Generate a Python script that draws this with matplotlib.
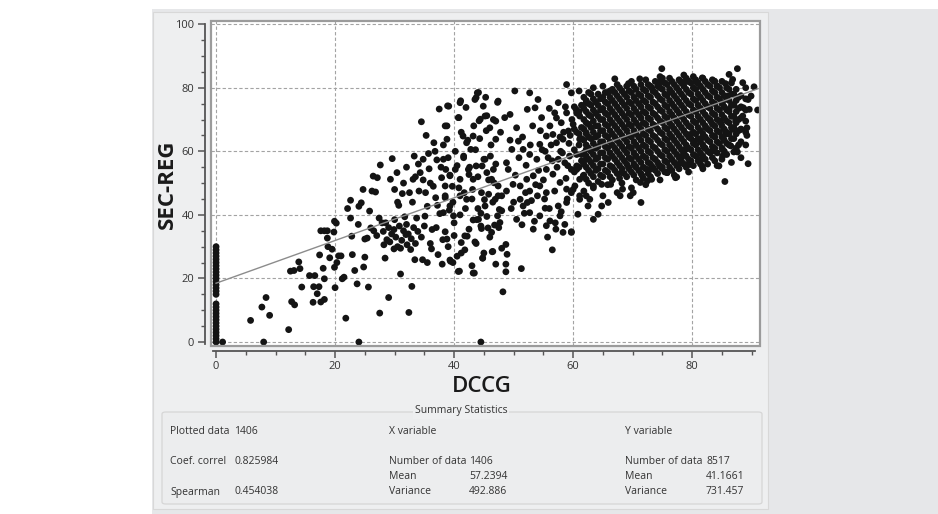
import numpy as np
import matplotlib.pyplot as plt
from matplotlib.patches import Rectangle, FancyBboxPatch

plt.rcParams['font.family'] = ['Open Sans', 'DejaVu Sans']

# --- data ----------------------------------------------------------------
# SEC-REG values sitting on DCCG = 0
zero_col_y = [0, 1, 2, 3, 4, 5, 6, 7, 8, 9, 10, 11, 12, 15, 16, 17, 18, 19,
              20, 21, 22, 23, 24, 25, 26, 27, 28, 29, 30]

# sparse low end, DCCG 1-22
low_pts = [(1.1, 0), (5.8, 6.8), (7.7, 11), (8.4, 14), (9.0, 8.4), (8.0, 0), (12.2, 3.9),
           (12.5, 22.3), (13.1, 22.5), (13.9, 25.2), (14.1, 23.1), (14.4, 17.3), (12.7, 12.7),
           (13.2, 11.7), (15.7, 20.9), (16.6, 20.9), (16.4, 17.4), (16.3, 12.5), (17.0, 15.2),
           (17.3, 17.4), (17.6, 12.6), (18.2, 13.4), (17.4, 27.4), (17.6, 35), (18.2, 35),
           (18.7, 35), (18.0, 23.2), (18.2, 19.9), (18.7, 32.7), (18.8, 30), (19.1, 26.5),
           (19.5, 29.2), (19.8, 34.6), (19.9, 38), (20.2, 37.4), (19.9, 23.5), (20.0, 17.1),
           (20.3, 25), (20.6, 27.1), (21.0, 27.1), (21.2, 19.9), (21.5, 20.4), (21.8, 7.5)]

# DCCG 22-48
mid_pts = [(24.0, 0), (23.7, 18.3), (23.3, 22.5), (22.9, 27.5), (22.8, 33.3), (22.6, 39), (22.1, 42),
           (22.6, 44.6), (24.8, 23.6), (25.0, 26.7), (25.6, 17.3), (23.9, 37), (24.0, 42.7), (24.4, 43.8),
           (24.7, 48), (25.0, 32.4), (25.4, 32.7), (25.8, 41.2), (26.0, 35.9), (26.2, 47.5), (26.4, 52.2),
           (27.1, 51.7), (26.8, 47.2), (27.4, 39), (27.5, 9.1), (27.6, 55.7), (27.9, 37.5), (28.1, 34.8),
           (28.2, 30.6), (28.4, 26.4), (28.7, 32.2), (29.0, 14), (29.3, 51.2), (29.6, 57.7), (29.9, 35.4),
           (29.9, 29.3), (30.4, 53.3), (30.7, 43), (31.0, 21.4), (31.3, 46.7), (31.7, 39.4), (31.9, 33.8),
           (32.1, 30.6), (32.4, 9.3), (32.7, 29.1), (32.9, 17.5), (33.1, 51.2), (33.3, 58.5), (33.4, 25.9),
           (33.7, 39), (33.9, 34.8), (34.1, 47.5), (34.3, 53.3), (34.5, 69.3), (34.7, 25.9), (34.8, 57.5),
           (35.1, 39.6), (35.3, 65), (35.5, 42.7), (35.7, 59.3), (36.0, 50), (36.2, 29.3), (36.3, 35.4),
           (36.6, 62.7), (36.9, 45.4), (37.1, 57.3), (37.3, 27.5), (37.5, 73.3), (37.6, 40.4), (37.9, 51.7),
           (38.1, 32.2), (38.6, 54.3), (38.8, 68), (38.9, 74.3), (39.2, 41.5), (39.4, 25.4), (39.7, 49),
           (40.0, 37.5), (40.7, 22.2), (40.8, 70.6), (41.1, 75.9), (41.5, 64.8), (41.7, 47), (42.0, 73.8),
           (42.2, 33.3), (42.5, 52.7), (42.8, 60.6), (43.1, 48), (43.4, 21.7), (43.7, 76.9), (43.8, 38.5),
           (44.1, 78.5), (44.2, 69.6), (44.5, 0), (44.7, 55.4), (44.8, 26.4), (45.1, 44.8), (45.3, 77),
           (45.5, 71.2), (45.7, 35.9), (46.1, 58.5), (46.5, 28.5), (46.7, 50.1), (47.0, 63.8), (47.3, 75.4),
           (47.6, 41.7),
           (29.0, 36), (29.5, 34), (30.2, 33), (30.8, 36.5), (31.2, 32), (31.5, 35), (32.0, 37), (32.3, 34),
           (32.8, 32.5), (33.2, 36), (30.5, 30), (31.0, 29.5), (29.2, 31.5), (33.5, 31), (30.0, 38.5),
           (28.5, 37.5), (27.0, 33.5), (26.5, 35), (34.5, 33), (35.0, 36.5),
           (30.0, 48), (30.5, 44), (31.5, 50), (32.0, 55), (32.5, 47), (33.0, 44), (33.5, 52), (34.0, 56),
           (34.8, 51), (35.2, 47), (35.8, 54.5), (36.5, 49), (36.8, 60), (37.2, 43), (37.8, 55), (38.2, 62),
           (38.5, 46), (39.0, 58), (39.3, 52.5), (39.8, 44), (40.2, 60), (40.5, 55.5), (40.8, 48.5),
           (41.2, 66), (41.6, 58), (41.9, 42), (42.3, 63.5), (42.6, 55), (43.0, 45), (43.3, 68), (43.6, 60.5),
           (44.0, 52), (44.3, 64), (44.6, 47), (45.0, 57.5), (45.4, 66.5), (45.8, 51), (46.2, 62), (46.6, 70),
           (47.0, 56), (47.4, 46), (47.8, 66),
           (35.5, 25), (36.0, 31), (37.0, 36), (38.0, 24.5), (39.0, 30), (40.0, 33.5), (40.5, 27), (41.0, 40),
           (41.8, 29), (42.5, 35.5), (43.0, 24), (43.7, 31), (44.0, 42), (44.5, 36.5), (45.0, 28),
           (45.5, 39.5), (46.0, 33), (46.5, 44), (47.0, 24.5), (47.5, 36), (48.0, 29.5)]

# DCCG 38-63
upper_pts = [(48.2, 15.8), (43.2, 21.7), (40.9, 22.3), (44.8, 26.4), (46.4, 28.4), (48.7, 30.7), (48.9, 27.6),
             (48.7, 24.5), (48.7, 22.1), (51.3, 23.1), (56.5, 29), (39.3, 25.8), (39.8, 25), (41.2, 28),
             (43.5, 31.5), (41.2, 31.3), (41.8, 33.4), (38.8, 32.4), (38.5, 34.7), (46.3, 34.5), (46.8, 36.8),
             (47.3, 39.7), (48.0, 41.3), (47.7, 37.6), (44.6, 35.7), (44.1, 38.6), (44.5, 40.5), (43.2, 38.4),
             (49.6, 42), (50.5, 38.6), (51.4, 36.9), (52.3, 43.9), (52.7, 40.7), (54.0, 46), (55.3, 42.1),
             (56.1, 38.1), (57.1, 35.5), (58.3, 34.5), (59.7, 34.5), (58.6, 37), (57.8, 39.7), (57.5, 42.8),
             (58.9, 43.9), (59.7, 47), (60.3, 49.1), (61.1, 44.9), (62.2, 46), (52.2, 51.2), (51.1, 49.1),
             (49.9, 49.6), (49.1, 54.3), (48.8, 56.4), (49.7, 60.6), (50.8, 63.2), (51.6, 60.6), (52.7, 59),
             (53.9, 57.5), (54.4, 62.2), (55.5, 64.8), (56.1, 68), (56.9, 72.1), (57.5, 75.3), (58.9, 81),
             (59.7, 78.4), (54.7, 70.6), (52.7, 78.4), (50.2, 79), (54.1, 76.3), (53.6, 73.7), (52.3, 73.2),
             (50.5, 67.4), (49.4, 71.6), (48.5, 70.6), (47.4, 75.8), (47.0, 69.5), (46.0, 67.4), (45.2, 71.1),
             (44.9, 74.2), (43.9, 78.4), (43.5, 76.3), (44.4, 70.1), (43.2, 64.8), (42.1, 62.7), (41.6, 58.5),
             (41.0, 75.3), (40.7, 70.6), (39.1, 74.2), (38.5, 68), (38.8, 63.8), (38.2, 57.5), (39.3, 52.3),
             (38.5, 49.1), (40.2, 54.3), (41.0, 51.2), (42.4, 54.3), (43.2, 51.2), (43.7, 55.4), (45.2, 57.5),
             (45.5, 53.3), (46.6, 54.3), (46.3, 51.2), (47.4, 49.1), (48.0, 46), (46.9, 44.9), (45.8, 46.5),
             (48.8, 47.5), (55.5, 54.3), (56.6, 52.8), (57.8, 50.2), (57.5, 57.5), (58.6, 56.4), (59.4, 58.5),
             (60.6, 55.4), (61.4, 59), (57.2, 62.7), (58.3, 63.8), (59.2, 66.4), (60.0, 68.5), (61.1, 71.1),
             (62.2, 75.3), (60.5, 73.2), (58.0, 69), (56.6, 65.3), (58.9, 72.1), (61.1, 63.8), (62.2, 65.9),
             (62.2, 60.6), (62.2, 57.5), (59.7, 54.3), (61.1, 51.2), (62.2, 51.2), (55.5, 47), (54.4, 49.1),
             (53.3, 52.3), (52.7, 47.5), (51.1, 44.9), (51.6, 42.8), (42.1, 44.9), (41.0, 46), (39.3, 42.8),
             (38.5, 45.4), (38.2, 40.7), (39.9, 39.7), (45.2, 42.8), (53.3, 35.5), (55.5, 36.6), (54.4, 39.7),
             (58.9, 48.1), (52.1, 55.6),
             (50.3, 52.5), (50.9, 58), (51.5, 64.5), (52.0, 47), (52.8, 62), (53.2, 68), (53.7, 49.5), (54.2, 54),
             (54.8, 60.5), (55.2, 45), (55.8, 58), (56.3, 62), (56.9, 47.5), (57.3, 55), (57.9, 60), (58.4, 66),
             (58.8, 51.5), (59.3, 62.5), (59.8, 70), (49.4, 63.5), (50.0, 44), (51.8, 40.5), (53.0, 44.5),
             (55.0, 51), (56.0, 42), (57.0, 37.5), (58.0, 41), (59.0, 45), (53.5, 38), (55.7, 33),
             (56.5, 57), (57.2, 70.5), (57.8, 64.5), (58.2, 59.5), (58.7, 74), (59.1, 55.5), (59.5, 65),
             (56.0, 73.5), (55.3, 60), (54.5, 66.5)]

# ragged edge of the dense cloud, DCCG 60-91
edge_pts = [(59.7, 34.7), (63.4, 38.6), (60.8, 40.2), (62.5, 42.8), (64.2, 40.2), (64.8, 42.8), (65.9, 43.9),
            (67.9, 46), (69.6, 46), (71.4, 43.9), (70.1, 47), (68.3, 48.1), (66.3, 49.6), (64.8, 49.6),
            (71.3, 50.2), (72.5, 50.7), (73.2, 51.2), (71.6, 52.3), (73.0, 54.4), (74.5, 55.4), (75.8, 53.3),
            (77.4, 51.9), (78.0, 56.4), (79.4, 55.9), (81.1, 57), (68.2, 53.3), (69.3, 54.9), (70.4, 55.4),
            (61.1, 46), (60.0, 48), (61.7, 52.3), (60.6, 54.3), (63.4, 49.1), (62.8, 44.9),
            (74.9, 86), (67.0, 82.8), (71.2, 82.8), (74.6, 81.8), (69.3, 81.3), (66.2, 79), (78.0, 82.1),
            (79.4, 82.1), (76.3, 79), (73.2, 80),
            (87.6, 86), (86.2, 84.2), (86.8, 82.6), (88.5, 81.6), (90.4, 80.3), (89.9, 77.4), (89.4, 76.3),
            (91.0, 73), (89.6, 73.2), (88.6, 73.7), (88.5, 71.1), (88.2, 66.9), (89.2, 67.4), (89.2, 65),
            (89.4, 56.1), (85.5, 50.5), (87.6, 59.8), (87.0, 59.8), (86.5, 61.7), (85.1, 60.6), (84.5, 55.4),
            (85.1, 58.5), (83.4, 60.1), (82.0, 61.2), (81.7, 55.2), (81.4, 57.5), (79.7, 55.9), (78.9, 60.6),
            (78.3, 58.5), (77.2, 51.7), (75.8, 53.3), (74.9, 54.6), (83.7, 64.8), (85.6, 65.3), (86.8, 66.9),
            (87.3, 69.5), (84.8, 69), (83.1, 69.5), (82.3, 67.4), (81.7, 64.3), (80.3, 63.2), (79.7, 65.3),
            (85.6, 81.3), (84.2, 80.5), (83.7, 82.1), (81.7, 83.1), (80.8, 81.6), (79.2, 82.1), (78.6, 81.6),
            (85.9, 77.4), (85.1, 75.3), (86.2, 73.2), (87.0, 74.8)]

# dense core, listed column by column (DCCG: SEC-REG values)
core_x = [60.2, 61.0, 61.8, 62.6, 63.4, 64.2, 65.0, 65.8, 66.6, 67.4, 68.2, 69.0, 69.8, 70.6,
          71.4, 72.2, 73.0, 73.8, 74.6, 75.4, 76.2, 77.0, 77.8, 78.6, 79.4, 80.2, 81.0, 81.8,
          82.6, 83.4, 84.2, 85.0, 85.8, 86.6, 87.4, 88.2, 89.0]
core_y = [[53.5, 60.5, 67, 74],
          [55, 62, 65.5, 72.5, 79],
          [47.5, 52.5, 56, 59.5, 63.5, 67, 70, 73.5, 77],
          [50, 54, 57.5, 61, 64.5, 68.5, 71.5, 75, 78.5],
          [48.5, 52, 55.5, 59, 62.5, 66, 69.5, 73, 76.5, 80],
          [50.5, 54.5, 58, 61.5, 65, 68, 71, 74.5, 78],
          [46, 52, 56, 59.5, 63, 66.5, 70, 73.5, 77, 80.5],
          [49.5, 53.5, 57.5, 61, 64.5, 68, 71.5, 75, 78.5],
          [51, 55, 58.5, 62, 65.5, 69, 72.5, 76, 79.5],
          [47, 53, 56.5, 60, 63.5, 67, 70.5, 74, 77.5, 81],
          [50, 54.5, 58, 61.5, 65, 68.5, 72, 75.5, 79],
          [52, 56, 59.5, 63, 66.5, 70, 73.5, 77, 80.5],
          [48.5, 53.5, 57.5, 61, 64.5, 68, 71.5, 75, 78.5, 82],
          [51, 55, 58.5, 62, 65.5, 69, 72.5, 76, 79.5],
          [53, 56.5, 60, 63.5, 67, 70.5, 74, 77.5, 81],
          [49.5, 54.5, 58, 61.5, 65, 68.5, 72, 75.5, 79, 82.5],
          [52, 56, 59.5, 63, 66.5, 70, 73.5, 77, 80.5],
          [54, 57.5, 61, 64.5, 68, 71.5, 75, 78.5, 82],
          [51, 55.5, 59, 62.5, 66, 69.5, 73, 76.5, 80, 83.5],
          [53.5, 57, 60.5, 64, 67.5, 71, 74.5, 78, 81.5],
          [55, 58.5, 62, 65.5, 69, 72.5, 76, 79.5, 83],
          [52.5, 56.5, 60, 63.5, 67, 70.5, 74, 77.5, 81],
          [54.5, 58, 61.5, 65, 68.5, 72, 75.5, 79, 82.5],
          [56, 59.5, 63, 66.5, 70, 73.5, 77, 80.5, 84],
          [53.5, 57.5, 61, 64.5, 68, 71.5, 75, 78.5, 82],
          [55.5, 59, 62.5, 66, 69.5, 73, 76.5, 80, 83.5],
          [57, 60.5, 64, 67.5, 71, 74.5, 78, 81.5],
          [54.5, 58.5, 62, 65.5, 69, 72.5, 76, 79.5, 83],
          [56, 60, 63.5, 67, 70.5, 74, 77.5, 81],
          [58, 61.5, 65, 68.5, 72, 75.5, 79, 82.5],
          [55.5, 59.5, 63, 66.5, 70, 73.5, 77, 80.5],
          [57.5, 61, 64.5, 68, 71.5, 75, 78.5, 82],
          [59, 62.5, 66, 69.5, 73, 76.5, 80],
          [56.5, 64, 67.5, 71, 74.5, 78, 81.5],
          [61, 65.5, 69, 72.5, 76, 79.5],
          [58, 63, 67, 70.5, 74, 77.5],
          [62, 66, 69.5, 73, 76.5, 80]]

# second, interleaved pass over the dense core
core2_x = [60.6, 61.4, 62.2, 63.0, 63.8, 64.6, 65.4, 66.2, 67.0, 67.8, 68.6, 69.4, 70.2, 71.0,
           71.8, 72.6, 73.4, 74.2, 75.0, 75.8, 76.6, 77.4, 78.2, 79.0, 79.8, 80.6, 81.4, 82.2,
           83.0, 83.8, 84.6, 85.4, 86.2, 87.0, 87.8]
core2_y = [[59, 66, 72],
           [57, 64, 67.5, 74.5],
           [55, 58.5, 62, 65.5, 69, 72.5, 76],
           [53, 56.5, 60, 64, 67.5, 71, 74.5, 78],
           [54, 57.5, 61, 64.5, 68, 72, 75.5],
           [52.5, 56, 59.5, 63, 66.5, 70, 73, 76.5],
           [54, 58, 61.5, 65, 68.5, 72, 75.5, 78.5],
           [52, 55.5, 59.5, 63, 66.5, 70, 73.5, 77],
           [54, 57.5, 61, 64.5, 68, 71.5, 75, 78.5],
           [51.5, 55.5, 59, 62.5, 66, 69.5, 73, 76.5, 80],
           [53, 57, 60.5, 64, 67.5, 71, 74.5, 78],
           [54.5, 58, 61.5, 65, 68.5, 72, 75.5, 79],
           [52.5, 56, 59.5, 63, 66.5, 70, 73.5, 77, 80.5],
           [54, 57.5, 61, 64.5, 68, 71.5, 75, 78],
           [51.5, 55, 58.5, 62, 65.5, 69, 72.5, 76, 79.5],
           [53, 56.5, 60, 63.5, 67, 70.5, 74, 77.5, 81],
           [55, 58, 61.5, 65, 68.5, 72, 75.5, 79],
           [53, 56.5, 60, 63.5, 67, 70.5, 74, 77.5, 80.5],
           [55, 58.5, 62, 65.5, 69, 72.5, 76, 79.5, 83],
           [56.5, 60, 63.5, 67, 70.5, 74, 77.5, 81],
           [54, 57.5, 61, 64.5, 68, 71.5, 75, 78.5, 82],
           [55.5, 59, 62.5, 66, 69.5, 73, 76.5, 80],
           [57, 60.5, 64, 67.5, 71, 74.5, 78, 81.5],
           [55, 58.5, 62, 65.5, 69, 72.5, 76, 79.5, 83],
           [57, 60.5, 64, 67.5, 71, 74.5, 78, 81.5],
           [58.5, 62, 65.5, 69, 72.5, 76, 79.5, 82.5],
           [56, 59.5, 63, 66.5, 70, 73.5, 77, 80.5],
           [57.5, 61, 64.5, 68, 71.5, 75, 78.5, 82],
           [59.5, 63, 66.5, 70, 73.5, 77, 80.5],
           [57, 61, 64.5, 68, 71.5, 75, 78.5, 82],
           [62.5, 66, 69.5, 73, 76.5, 80],
           [60, 63.5, 67, 70.5, 74, 77.5],
           [62, 65.5, 69, 72.5, 76, 79.5],
           [64, 67.5, 71, 74.5, 78],
           [62, 66.5, 70, 73.5, 77]]

# fitted line shown on the plot
reg_intercept = 18.5
reg_slope = 0.672

# summary statistics panel
summary_rows = [
    ("Plotted data", "1406", "X variable", "", "Y variable", ""),
    ("Coef. correl", "0.825984", "Number of data", "1406", "Number of data", "8517"),
    ("", "", "Mean", "57.2394", "Mean", "41.1661"),
    ("Spearman", "0.454038", "Variance", "492.886", "Variance", "731.457"),
]

# --- assemble --------------------------------------------------------------
pts = [(0.0, y) for y in zero_col_y] + low_pts + mid_pts + upper_pts + edge_pts
for cx, ys in list(zip(core_x, core_y)) + list(zip(core2_x, core2_y)):
    pts += [(cx, y) for y in ys]
dccg = np.array([p[0] for p in pts])
sec_reg = np.array([p[1] for p in pts])

W, H = 938, 514
fig = plt.figure(figsize=(W / 100, H / 100), dpi=100)
fig.patch.set_facecolor('white')


def fx(px):
    return px / W


def fy(py):
    return 1 - py / H


# grey window background + lighter chart panel
fig.add_artist(Rectangle((fx(152), 0), 1 - fx(152), fy(9), transform=fig.transFigure,
                         fc='#e6e7e9', ec='none', zorder=-10))
fig.add_artist(Rectangle((fx(153), fy(509)), fx(768 - 153), (509 - 12) / H,
                         transform=fig.transFigure, fc='#eeeff0', ec='#d8d8d8',
                         lw=0.8, zorder=-9))

# scatter axes
ax = fig.add_axes([fx(211), fy(346), fx(760 - 211), (346 - 21) / H])
ax.set_facecolor('white')
ax.set_xlim(-0.85, 91.4)
ax.set_ylim(-1.25, 101)

ax.scatter(dccg, sec_reg, s=24, c='#141414', edgecolors='none', zorder=3)
line_x = np.array([0.0, dccg.max()])
ax.plot(line_x, reg_intercept + reg_slope * line_x, color='#8c8c8c', lw=1, zorder=4)

ax.set_xticks(np.arange(0, 81, 20))
ax.set_xticks(np.arange(0, 91, 5), minor=True)
ax.set_yticks(np.arange(0, 101, 20))
ax.set_yticks(np.arange(0, 101, 5), minor=True)
ax.grid(True, which='major', ls=(0, (3, 2)), color='#a3a3a3', lw=0.8)
ax.set_axisbelow(True)

for side in ['top', 'right']:
    ax.spines[side].set_visible(False)
ax.spines['left'].set_position(('outward', 4.5))
ax.spines['bottom'].set_position(('outward', 3.5))
ax.spines['left'].set_bounds(-0.5, 100)
ax.spines['bottom'].set_bounds(-0.5, 90.6)
for side in ['left', 'bottom']:
    ax.spines[side].set_color('#555555')
    ax.spines[side].set_linewidth(1.3)
ax.tick_params(which='major', length=5, width=1.1, color='#555555', labelsize=8,
               labelcolor='#333333', pad=2.5)
ax.tick_params(which='minor', length=3, width=1.0, color='#555555')

# plot frame
ax.add_patch(Rectangle((0, 0), 1, 1, transform=ax.transAxes, fill=False,
                       ec='#9b9b9b', lw=1.6, clip_on=False, zorder=6))

# axis titles
fig.text(fx(482), fy(386), 'DCCG', ha='center', va='center', fontsize=16,
         fontweight='semibold', color='#1a1a1a')
fig.text(fx(167), fy(184), 'SEC-REG', ha='center', va='center', rotation=90,
         fontsize=16, fontweight='bold', color='#1a1a1a')

# summary statistics box
fig.add_artist(FancyBboxPatch((fx(162), fy(504)), fx(762 - 162), (504 - 412) / H,
                              boxstyle='round,pad=0,rounding_size=0.004',
                              transform=fig.transFigure, fc='#ecedee', ec='#d6d6d6',
                              lw=0.9, zorder=-8))
fig.text(fx(461), fy(411), 'Summary Statistics', ha='center', va='center', fontsize=7.5,
         color='#333333', bbox=dict(fc='#eeeff0', ec='none', pad=1.5))

row_py = [431, 462, 476.5, 492]
col_px = [170, 234, 389, 469, 625, 706]
for py, row in zip(row_py, summary_rows):
    for px, s in zip(col_px, row):
        if s:
            fig.text(fx(px), fy(py), s, ha='left', va='center', fontsize=7.5, color='#333333')

fig.savefig('out.png', dpi=100)
